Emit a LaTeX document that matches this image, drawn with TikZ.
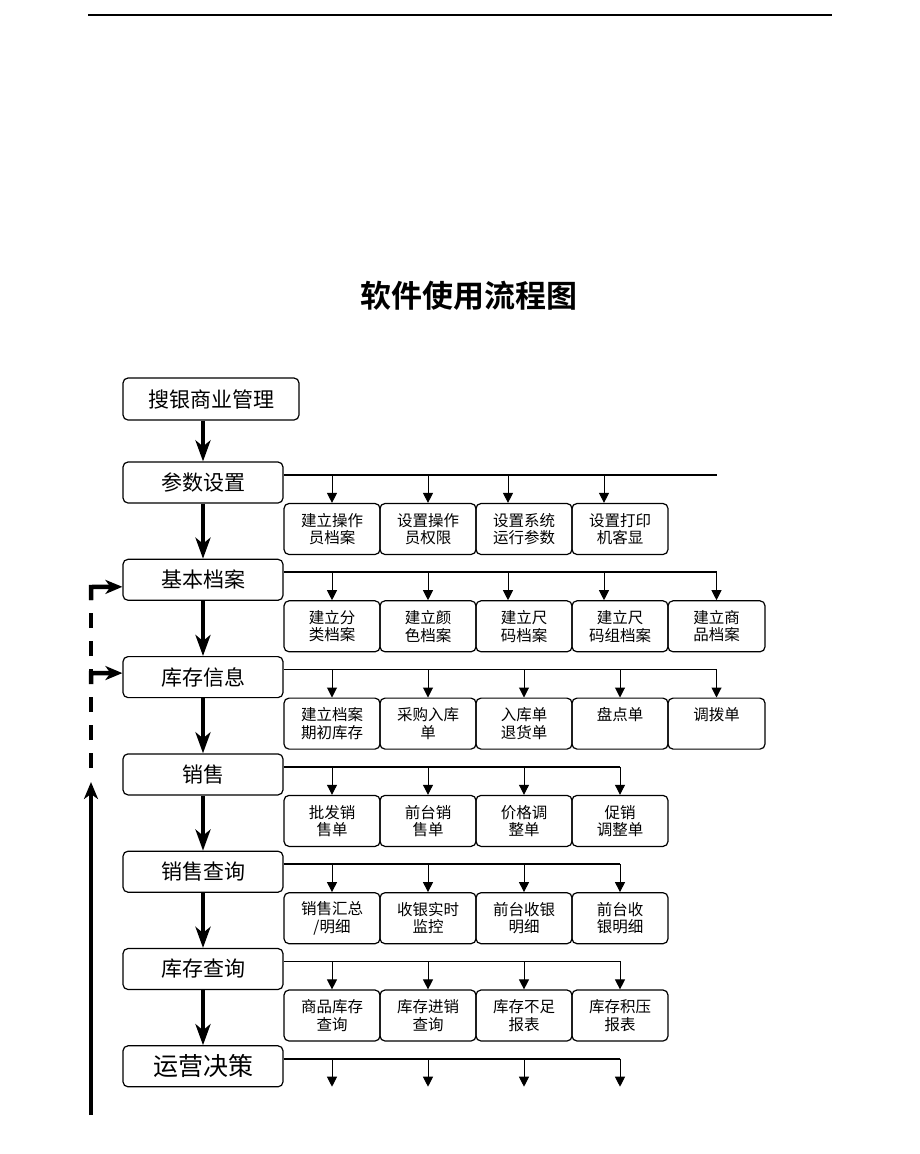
\documentclass[tikz,border=0pt]{standalone}
\usepackage{fontspec}
\newfontfamily\cjk{Noto Sans CJK SC}[BoldFont={Noto Sans CJK SC Bold}]
\usetikzlibrary{arrows.meta,positioning}

\begin{document}
\begin{tikzpicture}[
    x=1pt, y=-1pt, % 以像素為單位, y 向下
    mainbox/.style={draw, line width=1.2pt, rounded corners=5pt, minimum width=160pt, minimum height=41pt, inner sep=0pt, font=\cjk\fontsize{21}{21}\selectfont},
    subbox/.style={draw, line width=1.2pt, rounded corners=5pt, minimum width=96pt, minimum height=51pt, inner sep=0pt, align=center, font=\cjk\fontsize{15.5}{17.5}\selectfont},
    flow/.style={-{Stealth[length=21pt, width=15pt, inset=6pt]}, line width=4pt},
    branch/.style={line width=1.8pt},
    drop/.style={-{Triangle[length=10pt, width=10pt]}, line width=1pt},
    back/.style={line width=4.5pt},
    backtip/.style={-{Stealth[length=17pt, width=14pt, inset=5pt]}}
]
    \useasboundingbox (0,0) rectangle (920,1154);

    % --- 1. 頁首線與標題 ---
    \draw[line width=1.2pt] (88,15) -- (832,15);
    \node (title) at (469,296) [font=\cjk\bfseries\fontsize{31}{31}\selectfont] {软件使用流程图};

    % --- 2. 主流程 (左側方框) ---
    \node (main0) at (211,399)    [mainbox, minimum width=176pt, minimum height=42pt] {搜银商业管理};
    \node (main1) at (203,482.5)  [mainbox] {参数设置};
    \node (main2) at (203,579.8)  [mainbox] {基本档案};
    \node (main3) at (203,677.1)  [mainbox] {库存信息};
    \node (main4) at (203,774.4)  [mainbox] {销售};
    \node (main5) at (203,871.7)  [mainbox] {销售查询};
    \node (main6) at (203,969)    [mainbox] {库存查询};
    \node (main7) at (203,1066.3) [mainbox, font=\cjk\fontsize{25}{25}\selectfont] {运营决策};

    % 主流程粗箭頭
    \draw[flow] (main0.south -| main1) -- (main1.north);
    \foreach \a/\b in {1/2,2/3,3/4,4/5,5/6,6/7}
        \draw[flow] (main\a.south) -- (main\b.north);

    % --- 3. 子項目方框 ---
    % 參數設置
    \node (sub11) at (332,529) [subbox] {建立操作\\员档案};
    \node (sub12) at (428,529) [subbox] {设置操作\\员权限};
    \node (sub13) at (524,529) [subbox] {设置系统\\运行参数};
    \node (sub14) at (620,529) [subbox] {设置打印\\机客显};
    % 基本檔案
    \node (sub21) at (332,626.3)   [subbox] {建立分\\类档案};
    \node (sub22) at (428,626.3)   [subbox] {建立颜\\色档案};
    \node (sub23) at (524,626.3)   [subbox] {建立尺\\码档案};
    \node (sub24) at (620,626.3)   [subbox] {建立尺\\码组档案};
    \node (sub25) at (716.5,626.3) [subbox, minimum width=97pt] {建立商\\品档案};
    % 庫存信息
    \node (sub31) at (332,723.6)   [subbox] {建立档案\\期初库存};
    \node (sub32) at (428,723.6)   [subbox] {采购入库\\单};
    \node (sub33) at (524,723.6)   [subbox] {入库单\\退货单};
    \node (sub34) at (620,723.6)   [subbox] {盘点单\\\vphantom{单}};
    \node (sub35) at (716.5,723.6) [subbox, minimum width=97pt] {调拨单\\\vphantom{单}};
    % 銷售
    \node (sub41) at (332,820.9) [subbox] {批发销\\售单};
    \node (sub42) at (428,820.9) [subbox] {前台销\\售单};
    \node (sub43) at (524,820.9) [subbox] {价格调\\整单};
    \node (sub44) at (620,820.9) [subbox] {促销\\调整单};
    % 銷售查詢
    \node (sub51) at (332,918.2) [subbox] {销售汇总\\/明细};
    \node (sub52) at (428,918.2) [subbox] {收银实时\\监控};
    \node (sub53) at (524,918.2) [subbox] {前台收银\\明细};
    \node (sub54) at (620,918.2) [subbox] {前台收\\银明细};
    % 庫存查詢
    \node (sub61) at (332,1015.5) [subbox] {商品库存\\查询};
    \node (sub62) at (428,1015.5) [subbox] {库存进销\\查询};
    \node (sub63) at (524,1015.5) [subbox] {库存不足\\报表};
    \node (sub64) at (620,1015.5) [subbox] {库存积压\\报表};

    % --- 4. 分支線與向下小箭頭 ---
    \foreach \r in {1,...,7}
        \coordinate (bus\r) at ([yshift=-13.5pt]main\r.north east);

    \draw[branch] (bus1) -- (bus1 -| sub25);
    \draw[drop] (sub11.north |- bus1) -- (sub11.north);
    \draw[drop] (sub12.north |- bus1) -- (sub12.north);
    \draw[drop] ([xshift=-16pt]sub13.north |- bus1) -- ([xshift=-16pt]sub13.north);
    \draw[drop] ([xshift=-16pt]sub14.north |- bus1) -- ([xshift=-16pt]sub14.north);

    \draw[branch] (bus2) -- (bus2 -| sub25);
    \draw[drop] (sub21.north |- bus2) -- (sub21.north);
    \draw[drop] (sub22.north |- bus2) -- (sub22.north);
    \draw[drop] ([xshift=-16pt]sub23.north |- bus2) -- ([xshift=-16pt]sub23.north);
    \draw[drop] ([xshift=-16pt]sub24.north |- bus2) -- ([xshift=-16pt]sub24.north);
    \draw[drop] (sub25.north |- bus2) -- (sub25.north);

    \draw[branch] (bus3) -- (bus3 -| sub35);
    \foreach \c in {1,...,5}
        \draw[drop] (sub3\c.north |- bus3) -- (sub3\c.north);

    \foreach \r in {4,5,6} {
        \draw[branch] (bus\r) -- (bus\r -| sub\r4);
        \foreach \c in {1,...,4}
            \draw[drop] (sub\r\c.north |- bus\r) -- (sub\r\c.north);
    }

    % 運營決策: 箭頭下方沒有方框
    \draw[branch] (bus7) -- (bus7 -| sub64);
    \foreach \c in {1,...,4}
        \draw[drop] (sub6\c |- bus7) -- ++(0,28);

    % --- 5. 左側回饋箭頭 ---
    \coordinate (fbot) at (91,1115);
    \coordinate (ftip) at (91,782);
    \draw[back, backtip] (fbot) -- (ftip);
    \draw[back, dash pattern=on 15pt off 13pt] (91,768) -- (91,600);
    \draw[back, backtip] (91,600) -- (91,587) -- ([yshift=-7pt]main2.west);
    \draw[back, backtip] (91,684) -- (91,673) -- ([yshift=4pt]main3.west);

\end{tikzpicture}
\end{document}
